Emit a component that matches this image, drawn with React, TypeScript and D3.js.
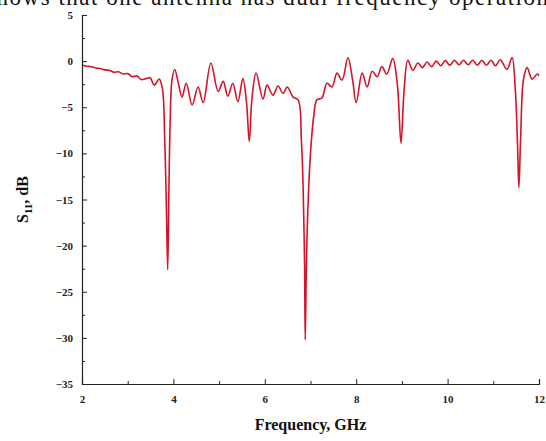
import React, { useEffect, useRef } from 'react';
import * as d3 from 'd3';

// S11 vs frequency
const freq = [
  2.0, 2.1, 2.2, 2.3, 2.4, 2.5, 2.6, 2.7, 2.8, 2.9, 3.0, 3.1, 3.2, 3.3, 3.4, 3.49, 3.58, 3.69,
  3.76, 3.81, 3.845, 3.875, 3.9, 3.93, 3.97, 4.03, 4.1, 4.19, 4.28, 4.41, 4.54, 4.65, 4.82,
  4.98, 5.09, 5.19, 5.3, 5.41, 5.52, 5.6, 5.66, 5.72, 5.81, 5.96, 6.05, 6.18, 6.29, 6.4, 6.49,
  6.62, 6.73, 6.8, 6.84, 6.87, 6.885, 6.91, 6.95, 7.0, 7.07, 7.14, 7.25, 7.36, 7.47, 7.58,
  7.69, 7.82, 7.92, 8.0, 8.13, 8.24, 8.35, 8.46, 8.56, 8.67, 8.8, 8.9, 8.98, 9.05, 9.13, 9.24,
  9.35, 9.45, 9.55, 9.65, 9.75, 9.85, 9.95, 10.05, 10.15, 10.25, 10.35, 10.45, 10.55, 10.65,
  10.75, 10.85, 10.95, 11.05, 11.15, 11.3, 11.41, 11.48, 11.53, 11.56, 11.6, 11.66, 11.74,
  11.85, 11.96, 12.0,
];
const s11 = [
  -0.45, -0.55, -0.6, -0.75, -0.8, -0.95, -1.0, -1.2, -1.15, -1.4, -1.35, -1.7, -1.6, -2.0, -1.9, -1.8, -2.6, -1.95,
  -3.0, -8.5, -15.5, -22.6, -14.5, -6.5, -2.0, -0.9, -2.2, -3.9, -2.4, -4.75, -2.8, -4.5, -0.2,
  -3.3, -2.2, -3.8, -2.4, -4.4, -1.9, -4.5, -8.7, -4.0, -1.3, -4.1, -2.6, -3.7, -2.7, -3.5, -2.8,
  -3.9, -4.2, -8.5, -14, -22, -30.2, -22, -15, -10, -6, -4.2, -4.0, -2.4, -2.8, -1.3,
  -2.05, 0.4, -2.0, -4.5, -1.3, -2.8, -1.1, -1.7, -0.6, -1.4, 0.3, -2.5, -8.9, -3.0, 0.1, -1.0,
  -0.2, -0.7, -0.1, -0.6, 0.0, -0.5, 0.05, -0.45, 0.1, -0.4, 0.1, -0.4, 0.1, -0.45,
  0.1, -0.45, 0.1, -0.5, 0.15, -0.9, 0.4, -3.0, -9.0, -13.7, -8.0, -2.0, -0.7,
  -1.95, -1.4, -1.6,
];
const xTicks = [2, 4, 6, 8, 10, 12];
const xMinor = [3, 5, 7, 9, 11];
const yTicks = [5, 0, -5, -10, -15, -20, -25, -30, -35];
const yMinor = [2.5, -2.5, -7.5, -12.5, -17.5, -22.5, -27.5, -32.5];

const W = 546;
const H = 441;
const serif = '"Liberation Serif", "Times New Roman", serif';

export default function App() {
  const ref = useRef<SVGSVGElement>(null);

  useEffect(() => {
    const svg = d3.select(ref.current);
    svg.selectAll('*').remove();

    const x = d3.scaleLinear().domain([2, 12]).range([82, 539]);
    const y = d3.scaleLinear().domain([-35, 5]).range([384, 15]);

    // cut-off text line from the page above the figure
    svg.append('text')
      .attr('x', -14)
      .attr('y', 5)
      .attr('textLength', 562)
      .attr('font-family', serif)
      .attr('font-size', 23)
      .attr('fill', '#111')
      .text('shows that one antenna has dual frequency operation');

    const data = freq.map((f, i) => [f, s11[i]] as [number, number]);
    const line = d3.line<[number, number]>()
      .x(d => x(d[0]))
      .y(d => y(d[1]))
      .curve(d3.curveCatmullRom.alpha(0.5));

    svg.append('path')
      .datum(data)
      .attr('d', line)
      .attr('fill', 'none')
      .attr('stroke', '#d3142a')
      .attr('stroke-width', 1.6)
      .attr('stroke-linejoin', 'round');

    // axes
    const gx = svg.append('g').attr('transform', `translate(0,${y(-35)})`);
    gx.call(d3.axisBottom(x).tickValues(xTicks).tickSize(-5).tickPadding(11).tickFormat(d3.format('d')));
    svg.append('g').attr('transform', `translate(0,${y(-35)})`)
      .call(d3.axisBottom(x).tickValues(xMinor).tickSize(-3).tickFormat(() => ''))
      .select('.domain').remove();

    const gy = svg.append('g').attr('transform', `translate(${x(2)},0)`);
    gy.call(d3.axisLeft(y).tickValues(yTicks).tickSize(-5).tickPadding(9).tickFormat(d3.format('d')));
    svg.append('g').attr('transform', `translate(${x(2)},0)`)
      .call(d3.axisLeft(y).tickValues(yMinor).tickSize(-3).tickFormat(() => ''))
      .select('.domain').remove();

    svg.selectAll('.domain').attr('stroke', '#222').attr('stroke-width', 1.2);
    svg.selectAll('.tick line').attr('stroke', '#222').attr('stroke-width', 1);
    svg.selectAll('.tick text')
      .attr('font-family', serif)
      .attr('font-size', 11)
      .attr('font-weight', 'bold')
      .attr('fill', '#222');

    // axis titles
    svg.append('text')
      .attr('x', (x(2) + x(12)) / 2)
      .attr('y', 430)
      .attr('text-anchor', 'middle')
      .attr('font-family', serif)
      .attr('font-size', 16)
      .attr('font-weight', 'bold')
      .attr('fill', '#111')
      .text('Frequency, GHz');

    const yt = svg.append('text')
      .attr('transform', `translate(28,${(y(5) + y(-35)) / 2}) rotate(-90)`)
      .attr('text-anchor', 'middle')
      .attr('font-family', serif)
      .attr('font-size', 16)
      .attr('font-weight', 'bold')
      .attr('fill', '#111');
    yt.append('tspan').text('S');
    yt.append('tspan').attr('font-size', 11).attr('dy', 4).text('11');
    yt.append('tspan').attr('dy', -4).text(', dB');
  }, []);

  return (
    <div style={{ position: 'absolute', left: 0, top: 0, width: W, height: H, background: '#fff' }}>
      <svg ref={ref} width={W} height={H} />
    </div>
  );
}
